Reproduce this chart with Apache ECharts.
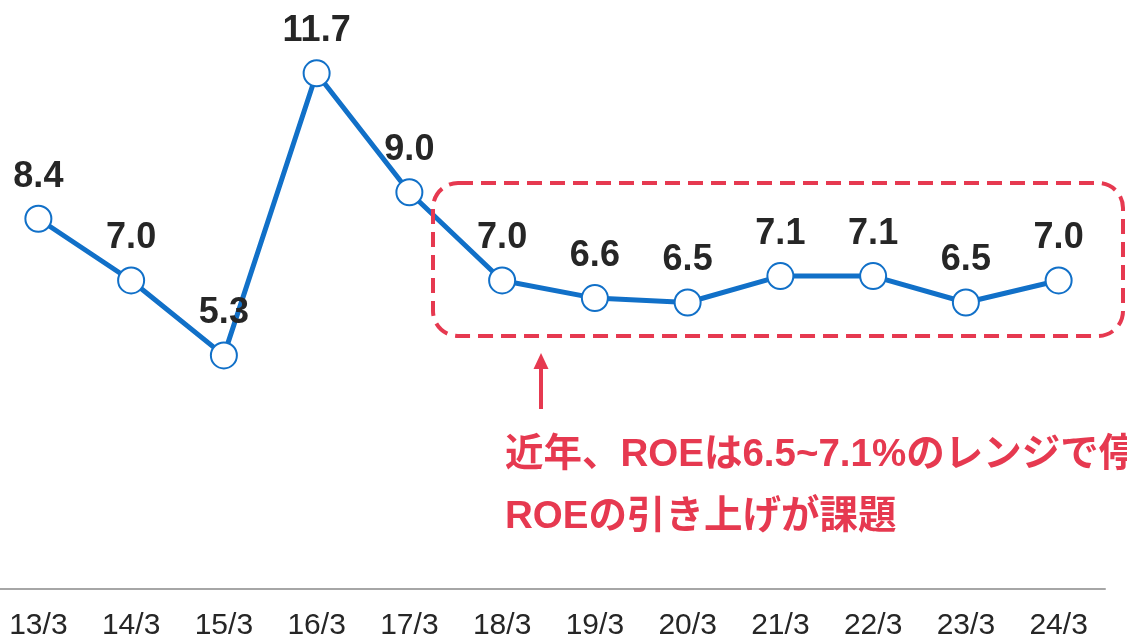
<!DOCTYPE html>
<html>
<head>
<meta charset="utf-8">
<script src="https://cdn.jsdelivr.net/npm/echarts@6/dist/echarts.min.js"></script>
<style>
html,body{margin:0;padding:0;background:#fff;overflow:hidden;}
#wrap{position:relative;width:1127px;height:639px;overflow:hidden;}
#chart{position:absolute;left:-8px;top:0;width:1135px;height:639px;}
</style>
</head>
<body>
<div id="wrap"><div id="chart"></div></div>
<script>
const categories = ['13/3','14/3','15/3','16/3','17/3','18/3','19/3','20/3','21/3','22/3','23/3','24/3'];
const roeValues = [8.4, 7.0, 5.3, 11.7, 9.0, 7.0, 6.6, 6.5, 7.1, 7.1, 6.5, 7.0];
const noteLine1 = '近年、ROEは6.5~7.1%のレンジで停滞';
const noteLine2 = 'ROEの引き上げが課題';

const RED = '#E63950';
const BLUE = '#1170C8';
const OX = 8; // container offset (page x = chart x - 8)

const chart = echarts.init(document.getElementById('chart'), null, {renderer: 'canvas'});
chart.setOption({
  animation: false,
  backgroundColor: '#ffffff',
  grid: {left: 0, right: 22, top: 16, bottom: 50, containLabel: false, outerBoundsMode: 'none'},
  xAxis: {
    type: 'category',
    data: categories,
    boundaryGap: true,
    axisLine: {show: true, lineStyle: {color: '#a6a6a6', width: 2}},
    axisTick: {show: false},
    axisLabel: {color: '#262626', fontSize: 30, fontFamily: 'Liberation Sans, Arial, sans-serif', margin: 22, interval: 0}
  },
  yAxis: {
    type: 'value', min: 0, max: 13, show: false,
    splitLine: {show: false}
  },
  series: [{
    type: 'line',
    data: roeValues,
    symbol: 'circle',
    symbolSize: 26,
    lineStyle: {color: BLUE, width: 5},
    itemStyle: {color: '#ffffff', borderColor: BLUE, borderWidth: 2},
    label: {
      show: true, position: 'top', distance: 10,
      formatter: p => p.value.toFixed(1),
      color: '#262626', fontSize: 36, fontWeight: 'bold',
      fontFamily: 'Liberation Sans, Arial, sans-serif'
    },
    z: 3
  }],
  graphic: [
    {
      type: 'rect', z: 10,
      shape: {x: 433 + OX, y: 183, width: 690, height: 153, r: 25},
      style: {fill: 'none', stroke: RED, lineWidth: 4, lineDash: [15, 8]}
    },
    {
      type: 'line', z: 10,
      shape: {x1: 541 + OX, y1: 409, x2: 541 + OX, y2: 366},
      style: {stroke: RED, lineWidth: 4}
    },
    {
      type: 'polygon', z: 10,
      shape: {points: [[541 + OX, 353], [533.5 + OX, 369], [548.5 + OX, 369]]},
      style: {fill: RED}
    },
    {
      type: 'text', z: 10, left: 505 + OX, top: 436,
      style: {text: noteLine1, fill: RED, fontSize: 38.5, fontWeight: 'bold', fontFamily: 'Liberation Sans, Noto Sans CJK JP'}
    },
    {
      type: 'text', z: 10, left: 505 + OX, top: 498,
      style: {text: noteLine2, fill: RED, fontSize: 38.5, fontWeight: 'bold', fontFamily: 'Liberation Sans, Noto Sans CJK JP'}
    }
  ]
});
</script>
</body>
</html>
